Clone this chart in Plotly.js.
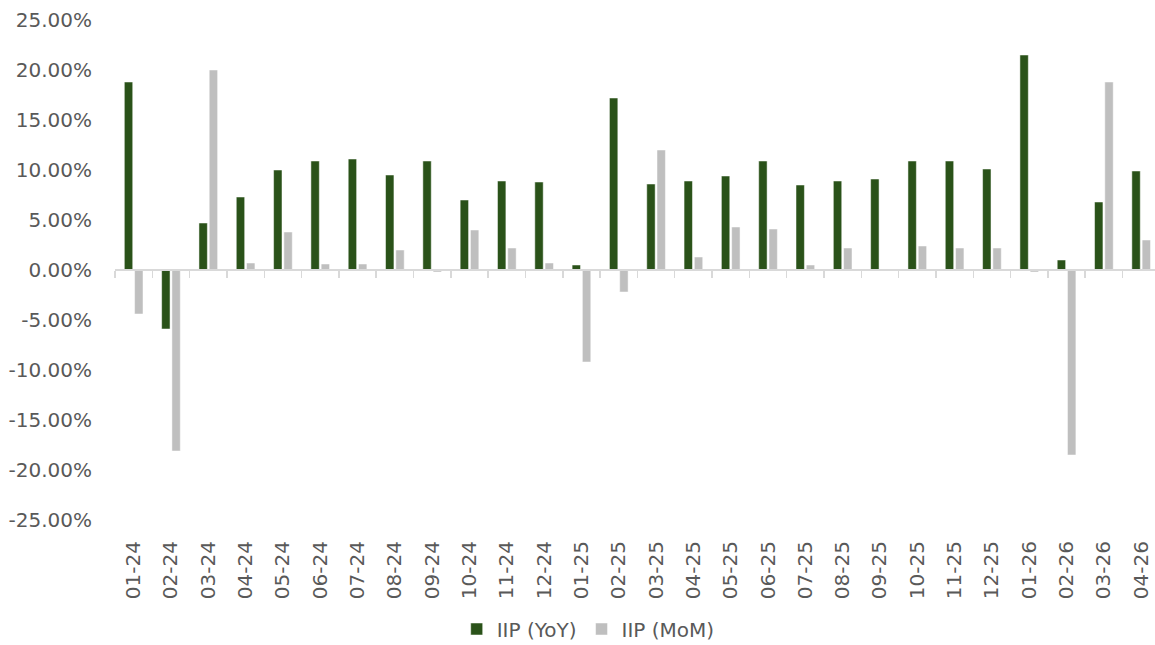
<!DOCTYPE html>
<html>
<head>
<meta charset="utf-8">
<script src="https://cdn.plot.ly/plotly-3.0.1.min.js"></script>
<style>html,body{margin:0;padding:0;background:#fff}#chart{width:1155px;height:645px}</style>
</head>
<body>
<div id="chart"></div>
<script>
const categories = ["01-24","02-24","03-24","04-24","05-24","06-24","07-24","08-24","09-24","10-24","11-24","12-24",
  "01-25","02-25","03-25","04-25","05-25","06-25","07-25","08-25","09-25","10-25","11-25","12-25",
  "01-26","02-26","03-26","04-26"];
const iipYoY = [18.8,-5.9,4.7,7.3,10.0,10.9,11.1,9.5,10.9,7.0,8.9,8.8,
  0.5,17.2,8.6,8.9,9.4,10.9,8.5,8.9,9.1,10.9,10.9,10.1,
  21.5,1.0,6.8,9.9];
const iipMoM = [-4.4,-18.1,20.0,0.7,3.8,0.6,0.6,2.0,-0.2,4.0,2.2,0.7,
  -9.2,-2.2,12.0,1.3,4.3,4.1,0.5,2.2,0.1,2.4,2.2,2.2,
  -0.2,-18.5,18.8,3.0];
const yTicks = [-25,-20,-15,-10,-5,0,5,10,15,20,25];

const fam = "'DejaVu Sans', sans-serif";
const font = {family: fam, size: 20, color: "#595959"};

const traces = [
  {type: "bar", name: "IIP (YoY)", x: categories, y: iipYoY,
   marker: {color: "#2a5219", line: {color: "#ffffff", width: 0.5}}, hoverinfo: "skip"},
  {type: "bar", name: "IIP (MoM)", x: categories, y: iipMoM,
   marker: {color: "#bfbfbf", line: {color: "#ffffff", width: 0.5}}, hoverinfo: "skip"},
  {type: "scatter", mode: "none", x: categories, y: categories.map(() => 0),
   xaxis: "x2", yaxis: "y", showlegend: false, hoverinfo: "skip"}
];

const layout = {
  width: 1155, height: 645,
  margin: {l: 115, r: 0, t: 20, b: 125, autoexpand: false},
  paper_bgcolor: "#ffffff", plot_bgcolor: "#ffffff",
  font: font,
  barmode: "group", bargap: 0.45, bargroupgap: 0.18,
  showlegend: true,
  legend: {orientation: "h", x: 0.455, xanchor: "center", y: -0.218, yanchor: "middle",
           font: {family: fam, size: 20, color: "#595959"}, itemwidth: 30, traceorder: "normal"},
  xaxis: {type: "category", categoryorder: "array", categoryarray: categories, automargin: false,
          range: [-0.5, 27.37], showgrid: false, zeroline: false, showline: false,
          ticks: "", tickangle: -90, ticklabelstandoff: 16,
          tickfont: {family: fam, size: 20, color: "#595959"}, fixedrange: true},
  xaxis2: {type: "category", categoryorder: "array", categoryarray: categories,
           matches: "x", overlaying: "x", anchor: "free", position: 0.5, automargin: false,
           range: [-0.5, 27.37], showgrid: false, zeroline: false,
           showline: true, linecolor: "#d9d9d9", linewidth: 2,
           ticks: "outside", tickson: "boundaries", ticklen: 7, tickwidth: 1.5, tickcolor: "#d9d9d9",
           showticklabels: false},
  yaxis: {range: [-25, 25], tickmode: "array", tickvals: yTicks, automargin: false,
          ticktext: yTicks.map(v => v.toFixed(2) + "%"),
          showgrid: false, zeroline: false, showline: false, ticks: "",
          ticklabelstandoff: 22,
          tickfont: {family: fam, size: 20, color: "#595959"}, fixedrange: true}
};

Plotly.newPlot("chart", traces, layout, {displayModeBar: false, staticPlot: true});
</script>
</body>
</html>
